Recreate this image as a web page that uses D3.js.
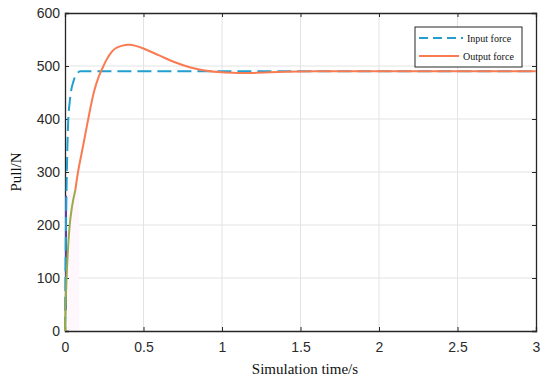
<!DOCTYPE html>
<html>
<head>
<meta charset="utf-8">
<script src="https://cdn.jsdelivr.net/npm/d3@7"></script>
<style>
  body { margin: 0; background: #fff; }
  .tick text { font-family: "Liberation Sans", Arial, sans-serif; font-size: 14px; fill: #2b2b2b; }
</style>
</head>
<body>
<div class="canvas"></div>
<script>
// data
const inputTime  = [0, 0.004, 0.01, 0.015, 0.021, 0.03, 0.04, 0.053, 0.064, 0.08, 0.096, 3];
const inputForce = [0, 140, 270, 345, 400, 432, 455, 470, 480, 487, 490, 490];

const startTime  = [0, 0.005, 0.01, 0.02, 0.03, 0.045, 0.066];
const startForce = [0, 60, 100, 160, 200, 235, 266];

const outputTime  = [0.066, 0.083, 0.117, 0.148, 0.185, 0.215, 0.245, 0.265, 0.29, 0.32, 0.36, 0.41, 0.45, 0.5, 0.6, 0.7, 0.8, 0.9, 1.0, 1.1, 1.2, 1.4, 1.6, 2, 3];
const outputForce = [266, 300, 352, 400, 452, 480, 500, 512, 524, 533, 538, 540, 538, 533, 520, 507, 497, 491, 488, 487, 487, 489, 490, 490, 490];

const xTicks = [0, 0.5, 1, 1.5, 2, 2.5, 3];
const yTicks = [0, 100, 200, 300, 400, 500, 600];
const legendNames = ['Input force', 'Output force'];

const W = 550, H = 383;
const margin = { top: 13, right: 14, bottom: 52, left: 65 };
const w = W - margin.left - margin.right;
const h = H - margin.top - margin.bottom;

const svg = d3.select('.canvas')
  .append('svg')
  .attr('width', W)
  .attr('height', H);

const graph = svg.append('g')
  .attr('transform', `translate(${margin.left}, ${margin.top})`);

const x = d3.scaleLinear().domain([0, 3]).range([0, w]);
const y = d3.scaleLinear().domain([0, 600]).range([h, 0]);

// grid
graph.append('g').selectAll('line')
  .data(xTicks.slice(1, -1))
  .enter().append('line')
    .attr('x1', d => x(d)).attr('x2', d => x(d))
    .attr('y1', 0).attr('y2', h)
    .attr('stroke', '#e3e3e3').attr('stroke-width', 1);
graph.append('g').selectAll('line')
  .data(yTicks.slice(1, -1))
  .enter().append('line')
    .attr('x1', 0).attr('x2', w)
    .attr('y1', d => y(d)).attr('y2', d => y(d))
    .attr('stroke', '#e3e3e3').attr('stroke-width', 1);

// faint shade near the origin
graph.append('rect')
  .attr('x', 0).attr('y', y(265)).attr('width', x(0.09)).attr('height', h - y(265))
  .attr('fill', '#fef8fd');

// axes with inward ticks (MATLAB style box)
const xAxis = d3.axisBottom(x).tickValues(xTicks).tickSize(-4).tickPadding(11).tickFormat(d3.format('~g'));
const yAxis = d3.axisLeft(y).tickValues(yTicks).tickSize(-4).tickPadding(5);
graph.append('g').attr('transform', `translate(0, ${h})`).call(xAxis);
graph.append('g').call(yAxis);
graph.append('g').call(d3.axisTop(x).tickValues(xTicks).tickSize(-4).tickFormat(''));
graph.append('g').attr('transform', `translate(${w}, 0)`).call(d3.axisRight(y).tickValues(yTicks).tickSize(-4).tickFormat(''));
graph.selectAll('.domain').attr('stroke', '#262626').attr('stroke-width', 1.3);
graph.selectAll('.tick line').attr('stroke', '#262626');

// purple trace along the y axis
graph.append('line')
  .attr('x1', 1).attr('x2', 1).attr('y1', y(40)).attr('y2', y(255))
  .attr('stroke', '#5a3fa8').attr('stroke-width', 2);

const line = d3.line()
  .x(d => x(d[0]))
  .y(d => y(d[1]))
  .curve(d3.curveMonotoneX);

const smoothLine = d3.line()
  .x(d => x(d[0]))
  .y(d => y(d[1]))
  .curve(d3.curveCatmullRom.alpha(0.5));

graph.append('path')
  .datum(d3.zip(inputTime, inputForce))
  .attr('d', line)
  .attr('fill', 'none')
  .attr('stroke', '#239fcf')
  .attr('stroke-width', 2)
  .attr('stroke-dasharray', '14,6');

graph.append('path')
  .datum(d3.zip(outputTime, outputForce))
  .attr('d', smoothLine)
  .attr('fill', 'none')
  .attr('stroke', '#fa7b52')
  .attr('stroke-width', 2);

graph.append('path')
  .datum(d3.zip(startTime, startForce))
  .attr('d', line)
  .attr('fill', 'none')
  .attr('stroke', '#9aab4a')
  .attr('stroke-width', 2);

// axis labels
svg.append('text')
  .attr('x', 305)
  .attr('y', 374)
  .attr('text-anchor', 'middle')
  .attr('font-family', '"Liberation Serif", "Times New Roman", serif')
  .attr('font-size', 15)
  .attr('fill', '#111')
  .text('Simulation time/s');

svg.append('text')
  .attr('transform', `translate(21, ${margin.top + h / 2}) rotate(-90)`)
  .attr('text-anchor', 'middle')
  .attr('font-family', '"Liberation Serif", "Times New Roman", serif')
  .attr('font-size', 15)
  .attr('fill', '#111')
  .text('Pull/N');

// legend
const legendGroup = svg.append('g').attr('transform', 'translate(415, 27)');
legendGroup.append('rect')
  .attr('width', 107).attr('height', 40)
  .attr('fill', '#fff').attr('stroke', '#262626').attr('stroke-width', 1);
const legendColour = ['#239fcf', '#fa7b52'];
const legendDash = ['9,5', null];
legendNames.forEach((name, i) => {
  const ly = 11 + i * 18;
  legendGroup.append('line')
    .attr('x1', 4).attr('x2', i === 0 ? 48 : 44)
    .attr('y1', ly).attr('y2', ly)
    .attr('stroke', legendColour[i]).attr('stroke-width', 2)
    .attr('stroke-dasharray', legendDash[i]);
  legendGroup.append('text')
    .attr('x', i === 0 ? 52 : 48)
    .attr('y', ly + 3.5)
    .attr('font-family', '"Liberation Serif", "Times New Roman", serif')
    .attr('font-size', 10)
    .attr('fill', '#111')
    .text(name);
});
</script>
</body>
</html>
